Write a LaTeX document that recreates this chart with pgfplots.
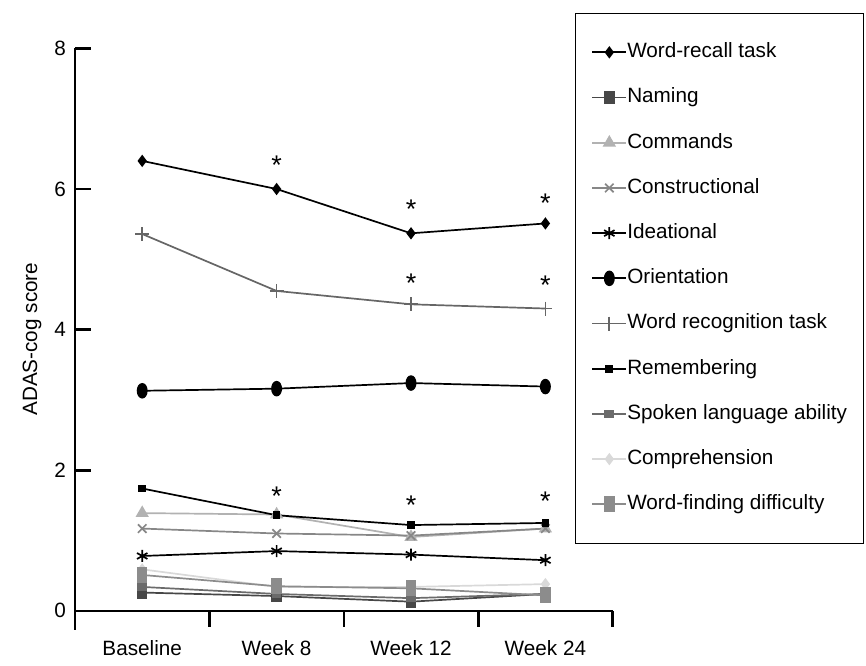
\documentclass[border=0pt]{standalone}
\usepackage{pgfplots}
\pgfplotsset{compat=1.18}
\usepackage{fontspec}
\setmainfont{Liberation Sans}
\definecolor{cNaming}{gray}{0.28}
\definecolor{cCommands}{gray}{0.70}
\definecolor{cConstr}{gray}{0.53}
\definecolor{cRecog}{gray}{0.40}
\definecolor{cSpoken}{gray}{0.42}
\definecolor{cComp}{gray}{0.85}
\definecolor{cWF}{gray}{0.55}
\newcommand\fs{\fontsize{10.35}{12.4}\selectfont}
\begin{document}
\begin{tikzpicture}
\useasboundingbox (0pt,0pt) rectangle (433pt,332.5pt);
\begin{axis}[
  at={(37.5pt,17.6pt)}, anchor=south west,
  x=67.2pt, y=35.15pt,
  xmin=-0.5, xmax=3.5, ymin=-0.27, ymax=8,
  axis x line=middle, axis y line=left,
  axis line style={-, line width=1.3pt, black},
  /pgf/number format/assume math mode=true,
  ytick={0,2,4,6,8},
  xtick={0.5,1.5,2.5,3.5}, xticklabels={},
  extra x ticks={0,1,2,3},
  extra x tick labels={Baseline,Week 8,Week 12,Week 24},
  extra x tick style={major tick length=0pt},
  xtick align=outside, ytick align=inside,
  major tick length=8pt,
  tick style={line width=1.3pt, black},
  ticklabel style={font=\fs},
  xticklabel style={yshift=-11.3pt},
  yticklabel style={xshift=-1pt},
  ylabel={ADAS-cog score},
  every axis y label/.style={at={(axis description cs:-0.080,0.5)}, rotate=90, anchor=center, font=\fs},
  legend style={at={(axis description cs:0.9299,1.0607)}, anchor=north west,
    draw=black, line width=0.5pt, font=\fs, inner xsep=8pt, inner ysep=14.5pt,
    row sep=12.9pt, nodes={inner sep=0pt, text height=7.5pt, text depth=2.2pt},
    /tikz/every even column/.append style={column sep=3pt}},
  legend cell align=left,
  every axis plot/.append style={line width=0.85pt},
  clip=false,
]
\addplot[black, mark=diamond*, mark size=2.4pt] coordinates {(0,6.40) (1,6.00) (2,5.37) (3,5.51)};
\addlegendentry{Word-recall task}
\addplot[cNaming, mark=square*, mark size=2.2pt, mark options={yscale=1.2}] coordinates {(0,0.26) (1,0.21) (2,0.13) (3,0.24)};
\addlegendentry{Naming}
\addplot[cCommands, mark=triangle*, mark size=3pt] coordinates {(0,1.39) (1,1.37) (2,1.05) (3,1.17)};
\addlegendentry{Commands}
\addplot[cConstr, mark=x, mark size=3pt] coordinates {(0,1.17) (1,1.10) (2,1.07) (3,1.17)};
\addlegendentry{Constructional}
\addplot[black, mark=asterisk, mark size=3pt] coordinates {(0,0.78) (1,0.85) (2,0.80) (3,0.72)};
\addlegendentry{Ideational}
\addplot[black, mark=*, mark size=2.3pt, mark options={yscale=1.5}] coordinates {(0,3.13) (1,3.16) (2,3.24) (3,3.19)};
\addlegendentry{Orientation}
\addplot[cRecog, mark=+, mark size=3.5pt] coordinates {(0,5.36) (1,4.55) (2,4.36) (3,4.30)};
\addlegendentry{Word recognition task}
\addplot[black, mark=square*, mark size=1.5pt] coordinates {(0,1.74) (1,1.36) (2,1.22) (3,1.25)};
\addlegendentry{Remembering}
\addplot[cSpoken, mark=square*, mark size=2pt, mark options={yscale=0.7}] coordinates {(0,0.34) (1,0.24) (2,0.18) (3,0.24)};
\addlegendentry{Spoken language ability}
\addplot[cComp, mark=diamond*, mark size=2.4pt] coordinates {(0,0.59) (1,0.34) (2,0.34) (3,0.38)};
\addlegendentry{Comprehension}
\addplot[cWF, mark=square*, mark size=2.2pt, mark options={yscale=1.6}] coordinates {(0,0.51) (1,0.35) (2,0.32) (3,0.22)};
\addlegendentry{Word-finding difficulty}
\addplot[forget plot, draw=none, mark=none, nodes near coords={*},
  nodes near coords style={anchor=center, font=\fontsize{13.5}{14}\selectfont, yshift=-3pt, inner sep=0pt, text=black}]
  coordinates {(1,6.43) (1,1.72) (2,5.80) (2,4.75) (2,1.59) (3,5.89) (3,4.72) (3,1.65)};
\end{axis}
\end{tikzpicture}
\end{document}
